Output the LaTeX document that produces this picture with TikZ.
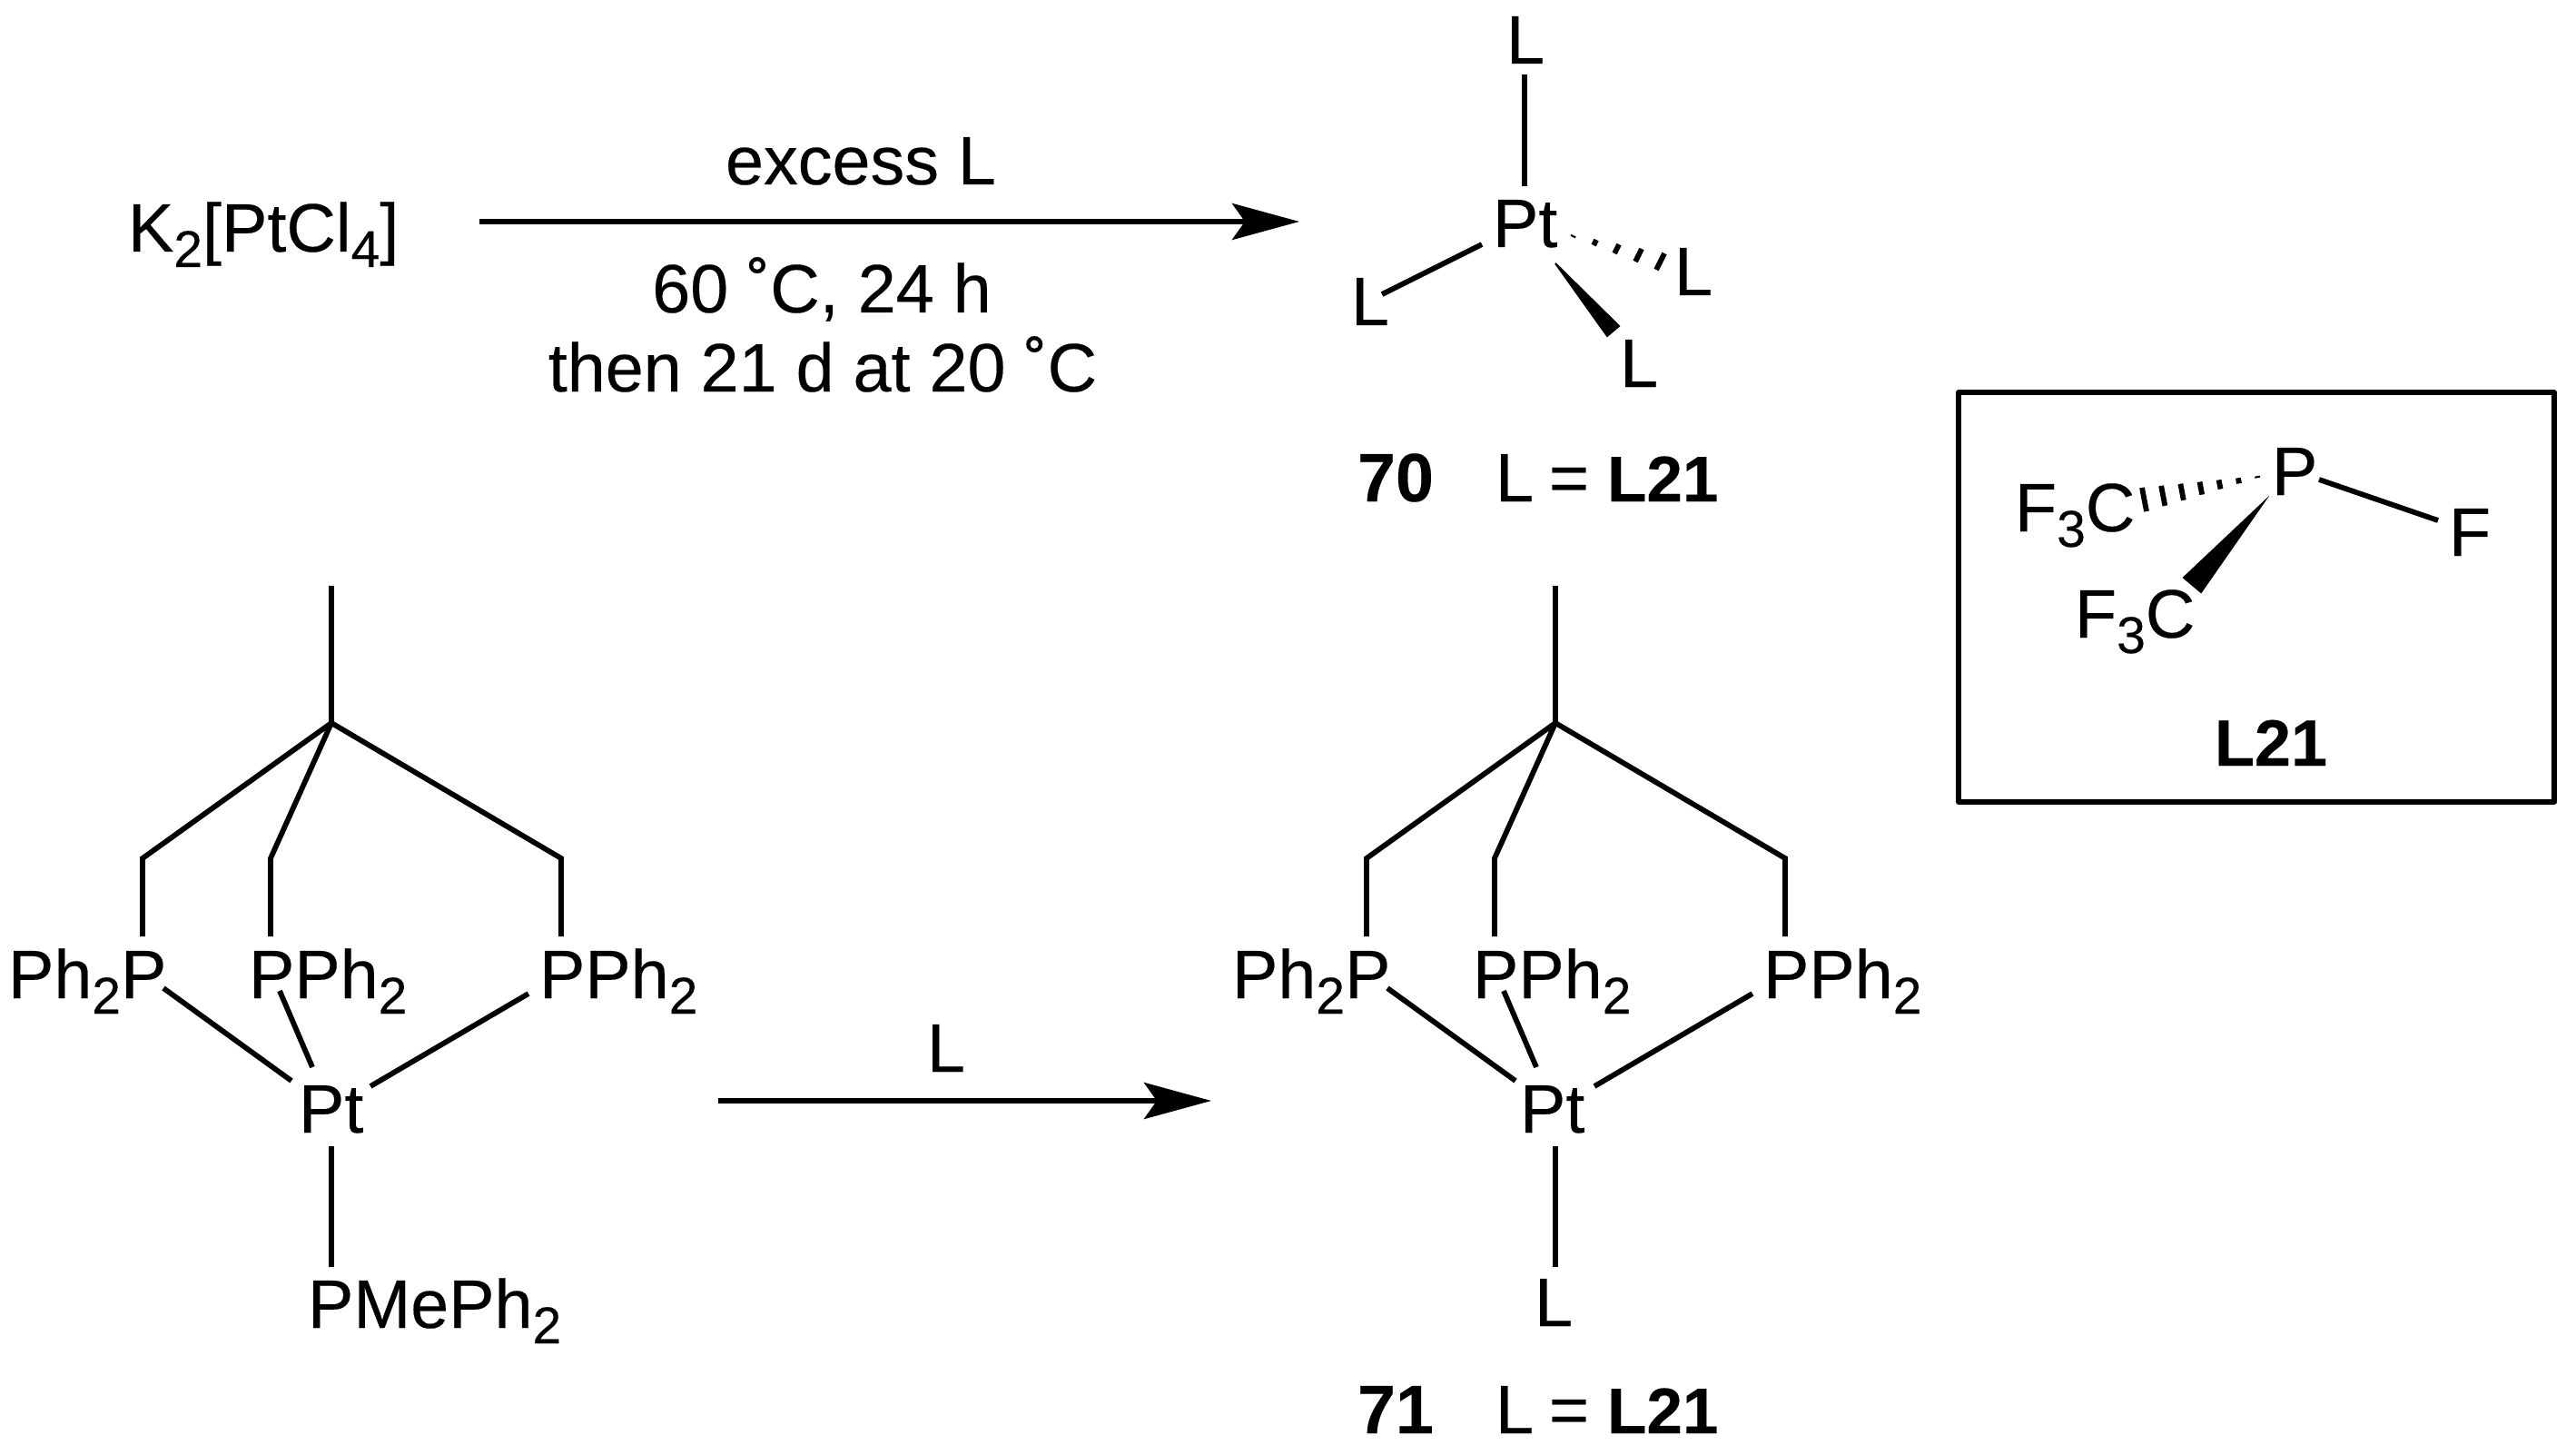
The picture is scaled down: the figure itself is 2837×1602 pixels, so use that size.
\documentclass[tikz,border=0pt]{standalone}
\usepackage{fontspec}
\setmainfont{Liberation Sans}[FakeBold=0.25,BoldFeatures={FakeBold=0.25}]
\usetikzlibrary{calc,arrows.meta}
\newcommand\sbs[1]{\raisebox{-17pt}{\fontsize{57}{57}\selectfont #1}}
\newcommand\lform{L\kern-4pt\ =\kern-1pt\ {\fontsize{71}{88}\selectfont\textbf{L21}}}
\newcommand\hashbond[4]{\foreach \t in {#4}{\draw[hashstripe] ($(#1)!\t!(#2)$) -- ($(#1)!\t!(#3)$);}}
\tikzset{
  lab/.style={inner sep=0pt,outer sep=0pt,anchor=base west,font=\fontsize{75.5}{88}\selectfont},
  labc/.style={lab,anchor=base},
  bond/.style={line width=5.8pt,line cap=butt,line join=miter},
  hashstripe/.style={line width=5.8pt,line cap=butt},
  wedge/.style={fill=black,draw=black,line width=2pt,line join=miter},
  rxn/.style={line width=5.8pt,-{Stealth[length=74pt,width=40pt,inset=14pt]}},
  frame/.style={draw=black,line width=5.8pt,line join=round}
}
\begin{document}
\begin{tikzpicture}[x=1pt,y=-1pt]
\useasboundingbox (0,0) rectangle (2837,1602);
% reaction 1
\node[lab] (k2) at (141,277) {K\sbs{2}[PtCl\sbs{4}]};
\coordinate (a1s) at (528,244);
\coordinate (a1e) at (1431,244);
\draw[rxn] (a1s) -- (a1e);
\node[labc] (c1) at (948,203) {excess L};
\node[labc] (c2) at (905,344) {60 ˚C, 24 h};
\node[labc] (c3) at (906,431) {then 21 d at 20 ˚C};
% complex 70
\node[lab] (pt70) at (1644,272) {Pt};
\node[lab] (l70t) at (1659,70) {L};
\node[lab] (l70l) at (1488,358) {L};
\node[lab] (l70r) at (1844,325) {L};
\node[lab] (l70b) at (1784,426) {L};
\coordinate (b1a) at (1679,82); \coordinate (b1b) at (1679,205);
\draw[bond] (b1a) -- (b1b);
\coordinate (b2a) at (1632,269); \coordinate (b2b) at (1522,324);
\draw[bond] (b2a) -- (b2b);
\coordinate (h1t) at (1722,257); \coordinate (h1a) at (1833,279); \coordinate (h1b) at (1824,297);
\hashbond{h1t}{h1a}{h1b}{0.1,0.325,0.55,0.775,1}
\coordinate (w1t) at (1713,290); \coordinate (w1a) at (1783,359); \coordinate (w1b) at (1770,370);
\filldraw[wedge] (w1t) -- (w1a) -- (w1b) -- cycle;
\node[lab] (n70) at (1495,552) {\textbf{70}};
\node[lab] (e70) at (1647,552) {\lform};
% box L21
\coordinate (fa) at (2157,432); \coordinate (fb) at (2813,883);
\draw[frame] (fa) rectangle (fb);
\node[lab] (pL) at (2502,545) {P};
\node[lab] (fL) at (2697,612) {F};
\node[lab] (cf1) at (2219,585) {F\sbs{3}C};
\node[lab] (cf2) at (2285,702) {F\sbs{3}C};
\coordinate (b3a) at (2554,528); \coordinate (b3b) at (2685,573);
\draw[bond] (b3a) -- (b3b);
\coordinate (h2t) at (2497,523); \coordinate (h2a) at (2359,537); \coordinate (h2b) at (2364,563);
\hashbond{h2t}{h2a}{h2b}{0.08,0.233,0.387,0.54,0.693,0.847,1}
\coordinate (w2t) at (2493,553); \coordinate (w2a) at (2405,636); \coordinate (w2b) at (2424,652);
\filldraw[wedge] (w2t) -- (w2a) -- (w2b) -- cycle;
\node[labc] (nL) at (2501,843) {\fontsize{72}{88}\selectfont\textbf{L21}};
% left complex
\coordinate (me) at (365,645); \coordinate (cq) at (365,796);
\coordinate (ca) at (157,945); \coordinate (pa) at (157,1031);
\coordinate (cb) at (298,945); \coordinate (pb) at (298,1031);
\coordinate (cc) at (618,945); \coordinate (pc) at (618,1031);
\draw[bond] (me) -- (cq);
\draw[bond] (pa) -- (ca) -- (cq);
\draw[bond] (pb) -- (cb) -- (cq);
\draw[bond] (pc) -- (cc) -- (cq);
\node[lab] (ph1) at (9,1099) {Ph\sbs{2}P};
\node[lab] (ph2) at (274,1099) {PPh\sbs{2}};
\node[lab] (ph3) at (594,1099) {PPh\sbs{2}};
\node[lab] (ptl) at (329,1247) {Pt};
\coordinate (d1a) at (180,1088); \coordinate (d1b) at (321,1190);
\coordinate (d2a) at (308,1091); \coordinate (d2b) at (344,1175);
\coordinate (d3a) at (582,1094); \coordinate (d3b) at (408,1196);
\coordinate (d4a) at (365,1262); \coordinate (d4b) at (365,1395);
\draw[bond] (d1a) -- (d1b);
\draw[bond] (d2a) -- (d2b);
\draw[bond] (d3a) -- (d3b);
\draw[bond] (d4a) -- (d4b);
\node[lab] (pm) at (339,1462) {PMePh\sbs{2}};
% reaction 2
\coordinate (a2s) at (791,1212);
\coordinate (a2e) at (1334,1212);
\draw[rxn] (a2s) -- (a2e);
\node[labc] (lr) at (1042,1180) {L};
% right complex
\begin{scope}[xshift=1348pt]
\coordinate (me2) at (365,645); \coordinate (cq2) at (365,796);
\coordinate (ca2) at (157,945); \coordinate (pa2) at (157,1031);
\coordinate (cb2) at (298,945); \coordinate (pb2) at (298,1031);
\coordinate (cc2) at (618,945); \coordinate (pc2) at (618,1031);
\draw[bond] (me2) -- (cq2);
\draw[bond] (pa2) -- (ca2) -- (cq2);
\draw[bond] (pb2) -- (cb2) -- (cq2);
\draw[bond] (pc2) -- (cc2) -- (cq2);
\node[lab] (qh1) at (9,1099) {Ph\sbs{2}P};
\node[lab] (qh2) at (274,1099) {PPh\sbs{2}};
\node[lab] (qh3) at (594,1099) {PPh\sbs{2}};
\node[lab] (ptr) at (326,1247) {Pt};
\coordinate (f1a) at (180,1088); \coordinate (f1b) at (321,1190);
\coordinate (f2a) at (308,1091); \coordinate (f2b) at (344,1175);
\coordinate (f3a) at (582,1094); \coordinate (f3b) at (408,1196);
\coordinate (f4a) at (365,1262); \coordinate (f4b) at (365,1395);
\draw[bond] (f1a) -- (f1b);
\draw[bond] (f2a) -- (f2b);
\draw[bond] (f3a) -- (f3b);
\draw[bond] (f4a) -- (f4b);
\node[labc] (lb) at (363,1460) {L};
\end{scope}
\node[lab] (n71) at (1495,1578) {\textbf{71}};
\node[lab] (e71) at (1647,1578) {\lform};
\end{tikzpicture}
\end{document}
